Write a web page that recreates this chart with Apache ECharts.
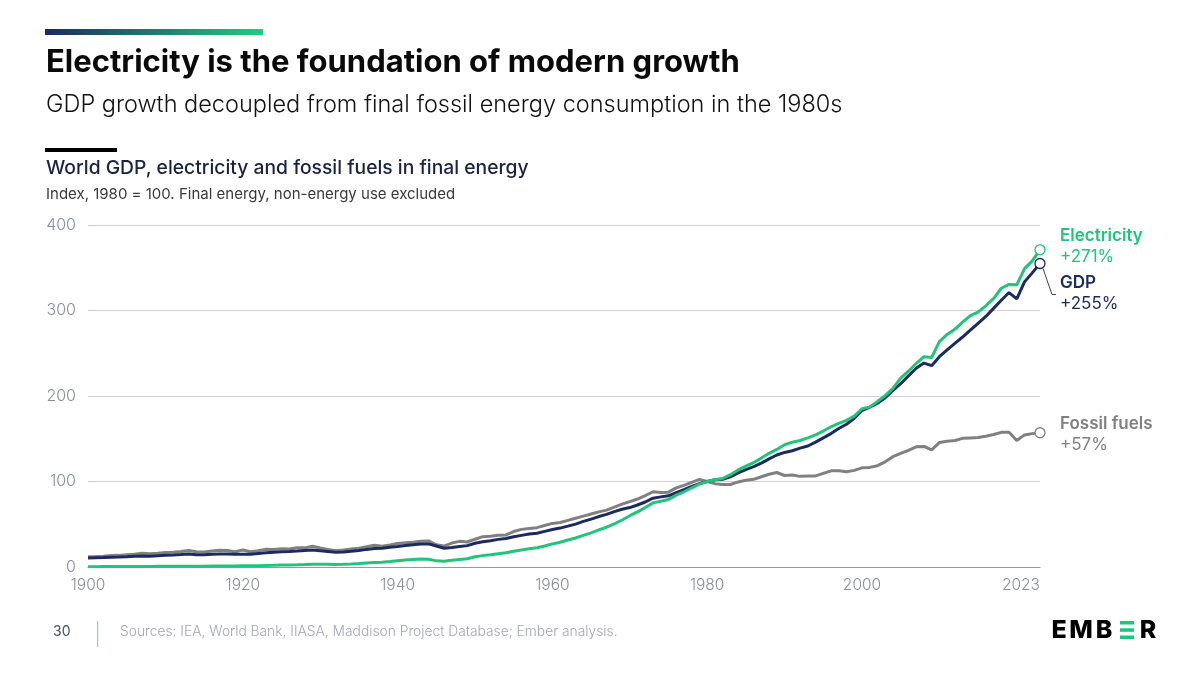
<!DOCTYPE html>
<html>
<head>
<meta charset="utf-8">
<title>Electricity is the foundation of modern growth</title>
<script src="https://cdn.jsdelivr.net/npm/echarts@6/dist/echarts.min.js"></script>
<style>
  html, body { margin: 0; padding: 0; background: #fff; }
  #chart { width: 1200px; height: 674px; }
</style>
</head>
<body>
<div id="chart"></div>
<script>
(function() {
  'use strict';

  // Index, 1980 = 100, one value per year 1900..2023
  var firstYear = 1900;
  var lastYear = 2023;

  var gdp = [
    10.5, 10.8, 11.0, 11.4, 11.6, 12.0, 12.6, 12.9, 12.7, 13.3,
    13.8, 14.1, 14.6, 15.2, 14.4, 14.3, 15.0, 15.1, 15.2, 14.8,
    14.9, 14.8, 15.8, 16.6, 17.2, 17.8, 18.2, 18.7, 19.3, 19.9,
    19.0, 18.1, 17.2, 17.6, 18.4, 19.4, 20.6, 21.5, 21.8, 23.0,
    24.0, 25.2, 26.0, 26.8, 27.0, 24.5, 22.0, 22.8, 24.0, 25.0,
    27.8, 29.5, 30.8, 32.3, 33.3, 35.3, 37.0, 38.5, 39.5, 41.7,
    43.8, 45.5, 47.8, 50.2, 53.3, 56.0, 59.0, 61.5, 64.8, 67.5,
    69.5, 72.5, 76.0, 80.5, 82.0, 83.3, 87.0, 90.5, 94.3, 97.5,
    100, 102, 102.5, 105.5, 110, 114, 117.5, 121.5, 126.5, 131,
    134, 136, 139, 141.5, 146, 151, 156, 162, 167, 174,
    183, 187, 191.5, 198, 206.5, 214.5, 223.5, 232.5, 238.5, 235.5,
    246, 254, 261.5, 269, 277, 285, 293, 302.5, 312, 321,
    313.5, 333.5, 344, 355
  ];

  var electricity = [
    0.4, 0.4, 0.5, 0.5, 0.5, 0.6, 0.6, 0.7, 0.7, 0.8,
    0.8, 0.9, 0.9, 1.0, 1.0, 1.0, 1.1, 1.2, 1.2, 1.2,
    1.5, 1.4, 1.6, 1.9, 2.0, 2.2, 2.4, 2.6, 2.9, 3.3,
    3.3, 3.2, 3.0, 3.2, 3.6, 4.1, 4.7, 5.3, 5.6, 6.4,
    7.3, 8.1, 8.7, 9.3, 9.1, 7.2, 6.8, 7.8, 8.9, 9.6,
    12.0, 13.3, 14.3, 15.5, 16.6, 18.5, 20.0, 21.3, 22.5, 24.5,
    27.0, 29.0, 31.5, 34.0, 37.0, 40.0, 43.5, 46.5, 50.5, 55.0,
    60.0, 64.5, 69.5, 75.0, 77.0, 79.0, 84.0, 88.0, 92.5, 97.0,
    100, 102, 103.5, 108, 113.5, 118, 122, 127.5, 133, 137.5,
    143, 146, 148, 151, 154.5, 159, 164, 168, 171.5, 176.5,
    185, 187, 193.5, 200.5, 209, 221, 229, 238, 246, 245,
    263.5, 272, 278, 286.5, 294, 298, 305.5, 314, 326, 330.5,
    330, 349, 358, 371
  ];

  var fossil = [
    12.0, 12.2, 12.5, 13.4, 13.6, 14.3, 15.0, 16.2, 15.5, 16.2,
    17.0, 17.3, 18.2, 19.3, 17.8, 17.6, 18.8, 19.6, 19.4, 17.8,
    19.8, 17.8, 19.0, 20.8, 20.6, 21.3, 21.0, 22.5, 22.4, 24.2,
    22.3, 20.6, 18.9, 19.8, 21.0, 22.0, 23.8, 25.5, 24.2, 25.8,
    27.5, 28.5, 29.0, 30.0, 30.5, 26.0, 24.5, 28.0, 30.0, 29.2,
    32.5, 35.5, 36.0, 37.0, 37.5, 41.5, 44.0, 45.0, 46.0, 48.5,
    51.0, 52.0, 54.5, 57.0, 59.5, 62.0, 64.5, 66.5, 70.0, 73.5,
    76.5, 79.5, 83.5, 88.0, 87.0, 87.5, 92.5, 95.5, 99.0, 102.5,
    100, 97.5, 96.5, 96.5, 99.5, 101.5, 102.5, 105.5, 108.5, 110.5,
    107, 107.5, 106, 106.5, 106.5, 109.5, 112.5, 112.5, 111.5, 113,
    116, 116.5, 118.5, 123, 129, 133, 136.5, 140.5, 141, 137,
    145.5, 147, 148, 150.5, 151, 151.5, 153, 155, 157.5, 157.5,
    148, 154.5, 156, 157
  ];

  var xTicks = [1900, 1920, 1940, 1960, 1980, 2000, 2023];
  var yTicks = [0, 100, 200, 300, 400];

  var GREEN = '#20c47a';
  var NAVY = '#1c2b5f';
  var GREY = '#808080';
  var FONT = 'Inter, "Noto Sans", sans-serif';

  var years = [];
  for (var y = firstYear; y <= lastYear; y++) years.push(y);

  function pairs(values) {
    return values.map(function(v, i) { return [years[i], v]; });
  }

  function changeLabel(name, color, offset) {
    return {
      show: true,
      offset: offset,
      distance: 20,
      formatter: function(p) {
        var pct = Math.round(p.value[1] - 100);
        return '{n|' + name + '}\n{v|+' + pct + '%}';
      },
      rich: {
        n: { fontFamily: FONT, fontSize: 17, fontWeight: 600, color: color, lineHeight: 21 },
        v: { fontFamily: FONT, fontSize: 17, fontWeight: 400, color: color, lineHeight: 21 }
      }
    };
  }

  function endMarker(values, color) {
    return {
      symbol: 'circle',
      symbolSize: 10,
      silent: true,
      label: { show: false },
      itemStyle: { color: '#fff', borderColor: color, borderWidth: 1.3 },
      data: [{ coord: [lastYear, values[values.length - 1]] }]
    };
  }

  function lineSeries(name, values, color, offset, z) {
    return {
      name: name,
      type: 'line',
      data: pairs(values),
      showSymbol: false,
      z: z,
      lineStyle: { color: color, width: 3 },
      itemStyle: { color: color },
      endLabel: changeLabel(name, color, offset),
      markPoint: endMarker(values, color)
    };
  }

  var chart = echarts.init(document.getElementById('chart'));

  var option = {
    backgroundColor: '#fff',
    animation: false,
    grid: { left: 88, right: 160, top: 225, bottom: 107 },
    xAxis: {
      type: 'value',
      min: firstYear,
      max: lastYear,
      axisLine: { show: true, lineStyle: { color: '#9597ad', width: 1.2 } },
      axisTick: { show: false },
      splitLine: { show: false },
      axisLabel: {
        customValues: xTicks,
        alignMaxLabel: 'right',
        margin: 10,
        color: '#8a8d9f',
        fontFamily: FONT,
        fontSize: 15.5,
        fontWeight: 300,
        formatter: function(v) { return String(v); }
      }
    },
    yAxis: {
      type: 'value',
      min: 0,
      max: 400,
      interval: 100,
      axisLine: { show: false },
      axisTick: { show: false },
      splitLine: { lineStyle: { color: '#cdcfdd', width: 1 } },
      axisLabel: {
        customValues: yTicks,
        margin: 12,
        color: '#8a8d9f',
        fontFamily: FONT,
        fontSize: 16,
        fontWeight: 300
      }
    },
    series: [
      lineSeries('Fossil fuels', fossil, GREY, [0, 2], 2),
      lineSeries('GDP', gdp, NAVY, [0, 30], 3),
      lineSeries('Electricity', electricity, GREEN, [0, -3], 4)
    ],
    graphic: [
      {
        type: 'rect',
        shape: { x: 45, y: 29, width: 218, height: 6 },
        style: {
          fill: new echarts.graphic.LinearGradient(0, 0, 1, 0, [
            { offset: 0, color: '#1c2b5f' },
            { offset: 1, color: '#22cc7e' }
          ])
        }
      },
      {
        type: 'text', x: 46, y: 63,
        style: {
          text: 'Electricity is the foundation of modern growth',
          font: '700 31px ' + FONT, fill: '#0a0a0a', verticalAlign: 'middle'
        }
      },
      {
        type: 'text', x: 46, y: 105,
        style: {
          text: 'GDP growth decoupled from final fossil energy consumption in the 1980s',
          font: '300 23.5px ' + FONT, fill: '#111', verticalAlign: 'middle'
        }
      },
      {
        type: 'rect',
        shape: { x: 45, y: 148, width: 72, height: 4 },
        style: { fill: '#000' }
      },
      {
        type: 'text', x: 46, y: 168,
        style: {
          text: 'World GDP, electricity and fossil fuels in final energy',
          font: '500 19.3px ' + FONT, fill: '#1b2240', verticalAlign: 'middle'
        }
      },
      {
        type: 'text', x: 46, y: 194,
        style: {
          text: 'Index, 1980 = 100. Final energy, non-energy use excluded',
          font: '400 15px ' + FONT, fill: '#3a3a3a', verticalAlign: 'middle'
        }
      },
      {
        type: 'text', x: 53, y: 632,
        style: { text: '30', font: '400 14px ' + FONT, fill: '#4a4f63', verticalAlign: 'middle' }
      },
      {
        type: 'rect',
        shape: { x: 97, y: 621, width: 1.2, height: 26 },
        style: { fill: '#7fdcb0' }
      },
      {
        type: 'text', x: 120, y: 632,
        style: {
          text: 'Sources: IEA, World Bank, IIASA, Maddison Project Database; Ember analysis.',
          font: '300 13.8px ' + FONT, fill: '#a4a6b1', verticalAlign: 'middle'
        }
      },
      // EMBER logo
      { type: 'text', x: 1059, y: 630, style: { text: 'E', font: '800 25px ' + FONT, fill: '#000', align: 'center', verticalAlign: 'middle' } },
      { type: 'text', x: 1081, y: 630, style: { text: 'M', font: '800 25px ' + FONT, fill: '#000', align: 'center', verticalAlign: 'middle' } },
      { type: 'text', x: 1104, y: 630, style: { text: 'B', font: '800 25px ' + FONT, fill: '#000', align: 'center', verticalAlign: 'middle' } },
      { type: 'rect', shape: { x: 1120, y: 621, width: 14, height: 3.5 }, style: { fill: GREEN } },
      { type: 'rect', shape: { x: 1120, y: 628.3, width: 14, height: 3.5 }, style: { fill: GREEN } },
      { type: 'rect', shape: { x: 1120, y: 635.5, width: 14, height: 3.5 }, style: { fill: GREEN } },
      { type: 'text', x: 1148, y: 630, style: { text: 'R', font: '800 25px ' + FONT, fill: '#000', align: 'center', verticalAlign: 'middle' } }
    ]
  };

  chart.setOption(option);

  // leader line from the GDP end point down to its label
  var end = chart.convertToPixel({ gridIndex: 0 }, [lastYear, gdp[gdp.length - 1]]);
  chart.setOption({
    graphic: option.graphic.concat([{
      type: 'polyline',
      shape: { points: [[end[0] + 3, end[1] + 5], [end[0] + 12, end[1] + 31], [end[0] + 16, end[1] + 31]] },
      style: { stroke: '#444', lineWidth: 1, fill: null }
    }])
  });
})();
</script>
</body>
</html>
